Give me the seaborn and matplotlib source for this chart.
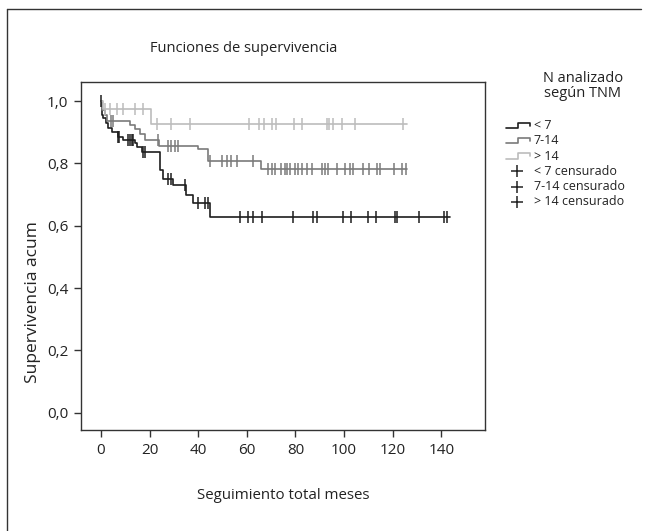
import numpy as np
import pandas as pd
import matplotlib
matplotlib.use("Agg")
import matplotlib.pyplot as plt
import seaborn as sns
from matplotlib.lines import Line2D
from matplotlib.legend_handler import HandlerBase

# ---- data ----
groups = ["< 7", "7-14", "> 14"]

t_lt7 = [0, 0.3, 1, 2, 3, 4.4, 7, 9, 14, 15, 17, 24.5, 25.5, 29.5, 35, 38, 45, 143.5]
s_lt7 = [1.0, 0.955, 0.945, 0.93, 0.915, 0.90, 0.886, 0.875, 0.865, 0.853, 0.838,
         0.78, 0.75, 0.73, 0.70, 0.672, 0.629, 0.629]
c_lt7 = [0, 7, 7.6, 11, 12, 12.6, 13.2, 17.4, 18, 27.5, 29, 34.5, 40, 42.8, 44,
         57.2, 60.5, 62.6, 66.3, 79, 87.2, 88.9, 99.6, 102.9, 110, 113, 121, 122,
         131, 141, 142.4]

t_7_14 = [0, 0.5, 1.5, 2.5, 12, 14, 16, 18, 24, 40, 44, 66, 126]
s_7_14 = [1.0, 0.97, 0.955, 0.935, 0.922, 0.91, 0.895, 0.875, 0.855, 0.845,
          0.809, 0.782, 0.782]
c_7_14 = [4, 5, 23.5, 27.6, 29, 30.4, 31.7, 44.9, 50, 52, 53.5, 56, 62.5,
          68.7, 70.4, 71.6, 74, 75.7, 76.5, 77.8, 79.8, 81, 82.7, 84.8, 86.8,
          91, 92.2, 93.4, 97, 100.4, 102.5, 103.7, 107.8, 110.3, 113.6, 114.8,
          120.6, 123.9, 125.5]

t_gt14 = [0, 1, 20.6, 126]
s_gt14 = [1.0, 0.975, 0.925, 0.925]
c_gt14 = [1.6, 3.7, 6.6, 9.1, 14, 17.3, 23, 29, 36.6, 61, 65, 67, 70.5, 72,
          79.4, 82.7, 93, 94, 95.5, 99, 104.5, 124.3]

colors = {"< 7": "#1e1e1e", "7-14": "#7a7a7a", "> 14": "#bcbcbc"}

curves = {"< 7": (t_lt7, s_lt7, c_lt7),
          "7-14": (t_7_14, s_7_14, c_7_14),
          "> 14": (t_gt14, s_gt14, c_gt14)}

line_rows, cens_rows = [], []
for g in groups:
    t, s, c = curves[g]
    for ti, si in zip(t, s):
        line_rows.append({"grupo": g, "t": ti, "S": si})
    tt = np.array(t)
    ss = np.array(s)
    for ci in c:
        idx = np.searchsorted(tt, ci, side="right") - 1
        cens_rows.append({"grupo": g, "t": ci, "S": ss[max(idx, 0)]})
lines_df = pd.DataFrame(line_rows)
cens_df = pd.DataFrame(cens_rows)

# ---- figure ----
sns.set_style("white")
plt.rcParams["font.family"] = ["Open Sans", "DejaVu Sans"]

fig = plt.figure(figsize=(6.47, 5.31), dpi=100)
ax = fig.add_axes([81 / 647, 1 - 430 / 531, (485 - 81) / 647, (430 - 82) / 531])

for g in groups:
    sub = lines_df[lines_df.grupo == g]
    sns.lineplot(data=sub, x="t", y="S", ax=ax, color=colors[g],
                 drawstyle="steps-post", estimator=None, sort=False,
                 linewidth=1.2, legend=False)
    csub = cens_df[cens_df.grupo == g]
    sns.scatterplot(data=csub, x="t", y="S", ax=ax, color=colors[g],
                    marker="|", s=70, linewidth=1.1, legend=False, zorder=3)

ax.set_xlim(-8.2, 158)
ax.set_ylim(-0.055, 1.061)
ax.set_xticks([0, 20, 40, 60, 80, 100, 120, 140])
yt = [0.0, 0.2, 0.4, 0.6, 0.8, 1.0]
ax.set_yticks(yt)
ax.set_yticklabels([f"{v:.1f}".replace(".", ",") for v in yt])
ax.tick_params(axis="both", which="both", direction="out", length=5,
               width=1, color="#333333", labelsize=11, labelcolor="#222222",
               left=True, bottom=True, pad=4)
for sp in ax.spines.values():
    sp.set_visible(True)
    sp.set_color("#333333")
    sp.set_linewidth(1)
ax.set_xlabel("Seguimiento total meses", fontsize=10.8, color="#222222", labelpad=22)
ax.set_ylabel("")
fig.text(33 / 647, 1 - 302 / 531, "Supervivencia acum", rotation=90,
         ha="center", va="center", fontsize=12.5, color="#222222")

fig.text(244 / 647, 1 - 48 / 531, "Funciones de supervivencia", ha="center",
         va="center", fontsize=10.5, color="#222222")

# outer frame (left and top)
fig.add_artist(Line2D([7 / 647, 7 / 647], [0, 1 - 9 / 531], transform=fig.transFigure,
                      color="#333333", lw=1))
fig.add_artist(Line2D([7 / 647, 641 / 647], [1 - 9 / 531, 1 - 9 / 531],
                      transform=fig.transFigure, color="#333333", lw=1))

# legend
fig.text(583 / 647, 1 - 86 / 531, "N analizado\nsegún TNM", ha="center",
         va="center", fontsize=10.5, color="#222222", linespacing=1.0)


class StepHandler(HandlerBase):
    def create_artists(self, legend, orig_handle, xdescent, ydescent, width,
                       height, fontsize, trans):
        x0, w, h = -xdescent, width, height
        y0 = -ydescent
        xs = [x0, x0 + 0.5 * w, x0 + 0.5 * w, x0 + w, x0 + w]
        ys = [y0 + 0.1 * h, y0 + 0.1 * h, y0 + 0.7 * h, y0 + 0.7 * h, y0 + 0.4 * h]
        ln = Line2D(xs, ys, color=orig_handle.get_color(), lw=1.2, transform=trans)
        return [ln]


class PlusHandler(HandlerBase):
    def create_artists(self, legend, orig_handle, xdescent, ydescent, width,
                       height, fontsize, trans):
        ln = Line2D([-xdescent + 0.45 * width], [-ydescent + 0.4 * height],
                    color=orig_handle.get_color(), marker="+", linestyle="none",
                    markersize=9, markeredgewidth=1.1, transform=trans)
        return [ln]


handles, labels = [], []
for g in groups:
    handles.append(Line2D([], [], color=colors[g]))
    labels.append(g)
for g in groups:
    handles.append(Line2D([], [], color="#222222"))
    labels.append(f"{g} censurado")

handler_map = {h: StepHandler() for h in handles[:3]}
handler_map.update({h: PlusHandler() for h in handles[3:]})
leg = fig.legend(handles, labels, loc="upper left",
                 bbox_to_anchor=(506 / 647, 1 - 119 / 531), frameon=False,
                 fontsize=9, handlelength=1.9, handletextpad=0.3,
                 labelspacing=0.18, borderaxespad=0, borderpad=0,
                 handler_map=handler_map)
for txt in leg.get_texts():
    txt.set_color("#222222")

fig.savefig("out.png", dpi=100)
